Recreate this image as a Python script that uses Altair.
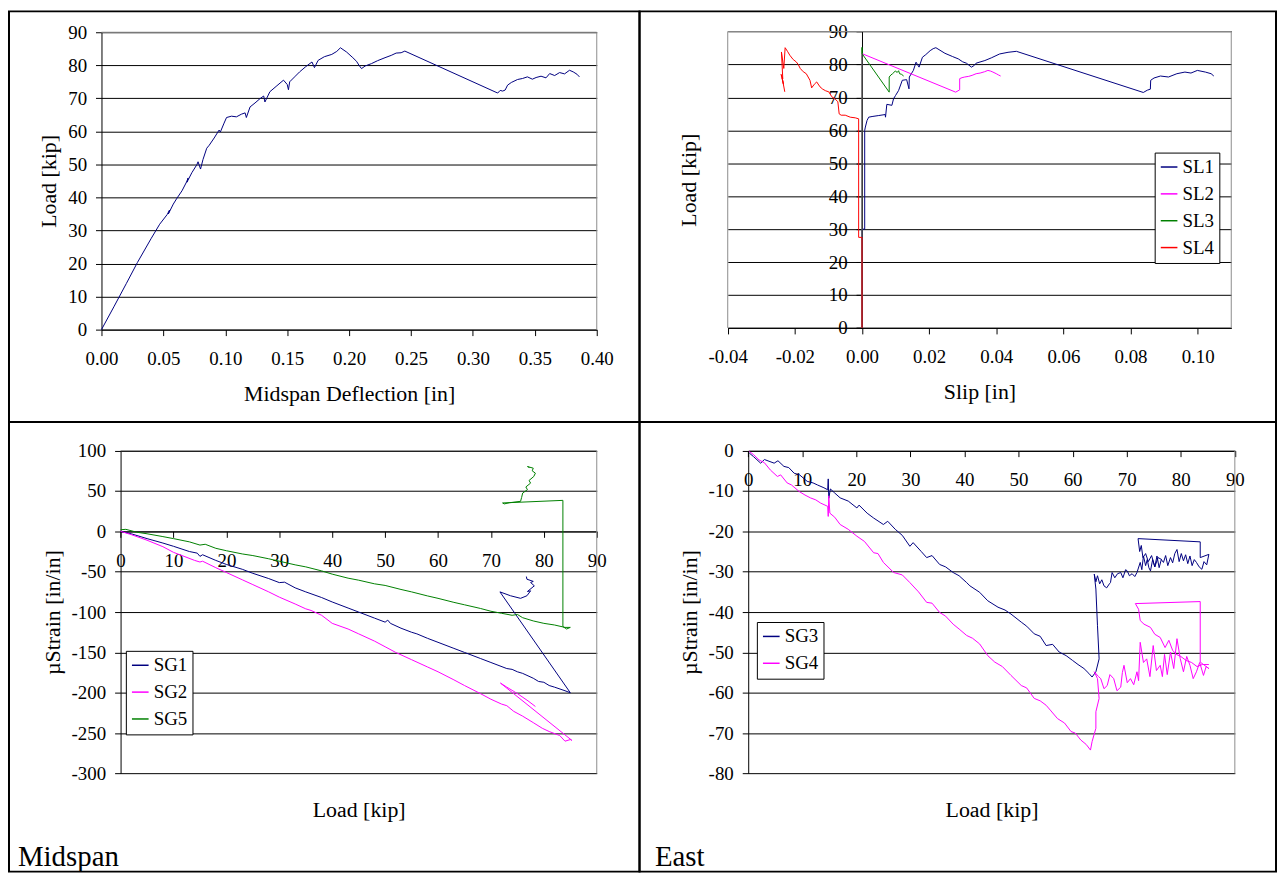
import altair as alt
import pandas as pd

FONT = "Liberation Serif"
NAVY = "#000080"
MAGENTA = "#FF00FF"
GREEN = "#008000"
RED = "#FF0000"
BORDER_GRAY = "#8c8c8c"
MINUS_FIX = "replace(datum.label, '\u2212', '-')"

# ---------------- Panel 1: Load vs midspan deflection ----------------
DEFL = [0.000, 0.010, 0.020, 0.029, 0.040, 0.047, 0.053, 0.055, 0.054, 0.058,
        0.061, 0.065, 0.069, 0.070, 0.069, 0.073, 0.077, 0.078, 0.080, 0.082,
        0.085, 0.087, 0.091, 0.095, 0.096, 0.099, 0.101, 0.105, 0.109, 0.113,
        0.116, 0.117, 0.120, 0.124, 0.128, 0.131, 0.132, 0.136, 0.141, 0.147,
        0.150, 0.151, 0.152, 0.156, 0.160, 0.165, 0.170, 0.172, 0.175, 0.180,
        0.186, 0.190, 0.193, 0.198, 0.203, 0.206, 0.208, 0.210, 0.213, 0.218,
        0.223, 0.229, 0.234, 0.238, 0.242, 0.245, 0.320, 0.322, 0.324, 0.326,
        0.328, 0.331, 0.336, 0.340, 0.344, 0.348, 0.351, 0.355, 0.359, 0.362,
        0.366, 0.370, 0.374, 0.378, 0.381, 0.384, 0.386]
LOAD1 = [0.0, 6.9, 13.9, 20.3, 27.5, 31.9, 34.8, 36.2, 35.0, 38.0,
         39.8, 42.0, 44.9, 45.9, 44.6, 47.5, 49.9, 50.8, 48.6, 51.5,
         54.9, 55.8, 58.0, 60.4, 59.8, 62.5, 64.2, 64.6, 64.4, 65.2,
         65.6, 64.2, 67.4, 68.6, 69.9, 70.7, 68.9, 72.0, 73.6, 75.5,
         74.2, 72.6, 75.0, 76.5, 78.0, 79.6, 81.0, 79.3, 81.5, 82.6,
         83.3, 84.2, 85.3, 84.0, 82.3, 81.2, 80.0, 79.0, 79.8, 80.5,
         81.4, 82.3, 83.0, 83.7, 83.8, 84.3, 71.6, 72.4, 72.2, 72.5,
         74.0, 74.8, 75.7, 76.0, 76.5, 75.8, 76.3, 76.7, 76.2, 77.5,
         76.9, 77.8, 77.4, 78.5, 78.0, 77.3, 76.5]

# ---------------- Panel 2: Load vs slip ----------------
SL_NAMES = ["SL1", "SL2", "SL3", "SL4"]
SL_COLORS = [NAVY, MAGENTA, GREEN, RED]
SL1_X = [0.0000, 0.0000, 0.0008, 0.0008, 0.0010, 0.0015, 0.0020, 0.0030, 0.0050, 0.0069,
         0.0070, 0.0074, 0.0089, 0.0094, 0.0100, 0.0109, 0.0120, 0.0133, 0.0140, 0.0141,
         0.0153, 0.0161, 0.0170, 0.0180, 0.0190, 0.0203, 0.0212, 0.0220, 0.0247, 0.0270,
         0.0287, 0.0300, 0.0311, 0.0326, 0.0333, 0.0340, 0.0366, 0.0385, 0.0410, 0.0435,
         0.0460, 0.0838, 0.0850, 0.0859, 0.0860, 0.0870, 0.0889, 0.0913, 0.0938, 0.0962,
         0.0980, 0.0999, 0.1023, 0.1040, 0.1048]
SL1_Y = [0.0, 30.0, 30.0, 60.0, 61.0, 63.0, 64.0, 64.2, 64.5, 64.8,
         64.0, 67.9, 67.6, 69.6, 70.6, 72.1, 75.2, 75.4, 72.6, 76.2,
         78.2, 80.7, 79.2, 82.2, 83.0, 84.2, 84.8, 85.1, 83.4, 82.4,
         81.7, 80.8, 80.4, 79.2, 79.6, 80.4, 81.2, 82.0, 83.2, 83.7,
         84.0, 71.5, 72.2, 72.5, 75.2, 75.9, 76.5, 76.2, 77.2, 77.7,
         77.4, 78.2, 77.7, 77.2, 76.5]
SL2_X = [0.0000, 0.0000, 0.0279, 0.0291, 0.0291, 0.0298, 0.0306, 0.0318, 0.0328, 0.0340,
         0.0352, 0.0365, 0.0375, 0.0383, 0.0390, 0.0400, 0.0407, 0.0413]
SL2_Y = [0.0, 83.3, 71.6, 72.3, 75.7, 76.0, 76.2, 76.4, 76.7, 77.2,
         77.4, 77.8, 78.2, 78.0, 77.7, 77.2, 76.8, 76.5]
SL3_X = [0.0000, 0.0000, 0.0000, 0.0081, 0.0081, 0.0086, 0.0091, 0.0099, 0.0105, 0.0109,
         0.0112, 0.0118, 0.0124]
SL3_Y = [0.0, 85.2, 83.3, 71.6, 76.2, 76.8, 77.2, 78.0, 77.6, 78.1,
         77.2, 77.0, 76.5]
SL4_X = [0.0000, 0.0000, 0.0000, -0.0010, -0.0010, -0.0020, -0.0035, -0.0050, -0.0062, -0.0068,
         -0.0072, -0.0080, -0.0090, -0.0099, -0.0108, -0.0117, -0.0125, -0.0135, -0.0142, -0.0150,
         -0.0155, -0.0166, -0.0175, -0.0184, -0.0190, -0.0196, -0.0205, -0.0215, -0.0222, -0.0229,
         -0.0233, -0.0240, -0.0236, -0.0241, -0.0234, -0.0238, -0.0230]
SL4_Y = [0.0, 15.0, 27.5, 27.5, 63.5, 63.8, 64.0, 64.6, 64.6, 65.0,
         68.7, 69.5, 70.2, 71.7, 72.0, 72.5, 73.2, 74.7, 74.0, 72.9,
         75.2, 77.2, 77.8, 78.8, 80.0, 80.8, 81.5, 82.8, 84.0, 85.1,
         78.8, 83.8, 75.7, 77.0, 74.0, 76.0, 71.7]

# ---------------- Panel 3: Midspan strain vs load ----------------
SGM_NAMES = ["SG1", "SG2", "SG5"]
SGM_COLORS = [NAVY, MAGENTA, GREEN]
SG1_X = [0, 2, 5, 8, 10, 13, 14.5, 15, 15.5, 18,
         20, 23, 25, 28, 30, 31, 33, 35, 38, 40,
         43, 45, 48, 50, 50.5, 51, 53, 55, 56, 58,
         60, 63, 65, 68, 70, 73, 74, 75, 76, 78,
         79, 80, 81, 82, 84, 85, 71.7, 73.7, 75.6, 76.8,
         77.5, 76.9, 78.2, 77.5, 78.0, 76.8, 76.7]
SG1_Y = [0, -3, -9, -14.5, -18.5, -25, -27, -31, -29, -36,
         -41, -47, -52, -58.5, -63.5, -63, -70, -75, -82, -87.5,
         -95, -100, -107.5, -112.5, -110, -114, -120, -125, -127, -132.5,
         -137.5, -145, -150, -157.5, -162.5, -170, -171, -174, -176, -182,
         -186, -187, -191, -193, -197.5, -200, -75, -79.8, -83, -79.8,
         -73.7, -74.5, -67.5, -63.4, -62, -59.3, -56]
SG2_X = [0, 2, 5, 8, 10, 12, 14, 15, 15.5, 18,
         20, 23, 25, 28, 30, 33, 35, 36, 38, 40,
         43, 45, 48, 50, 52, 55, 58, 60, 63, 65,
         68, 70, 72, 73, 74.3, 76, 78, 79.7, 81, 83,
         84, 85, 85.3, 71.8, 73, 75, 77, 78.4]
SG2_Y = [0, -4, -11, -19, -26, -31, -36, -38, -37, -45,
         -51, -60, -66, -75, -81.5, -90, -96, -98, -104, -114,
         -121, -127, -136, -143, -150, -159, -168, -174, -184, -191,
         -201, -208, -214, -216, -223, -229, -237, -244, -248, -253,
         -260, -258, -259, -188, -193, -201, -210, -217]
SG5_X = [0, 1, 3, 5, 8, 10, 13, 15, 16, 18,
         20, 23, 25, 28, 30, 33, 35, 38, 40, 43,
         45, 48, 50, 53, 55, 58, 60, 63, 65, 68,
         70, 72, 74, 75, 76, 78, 80, 82, 84, 85,
         84.3, 83.6, 83.6, 72.2, 72.5, 73.5, 75.6, 75.8, 76.0, 76.9,
         76.6, 77.5, 77.2, 78.1, 78.4, 77.8, 78.0, 76.9, 77.3]
SG5_Y = [2, 2.5, -1, -3, -6.5, -9, -13, -17, -16, -21,
         -24, -28, -30, -34, -37, -41.5, -44, -49, -53, -58,
         -60.5, -65, -67, -72, -75, -80, -83, -88, -91, -95.5,
         -99, -101.5, -104, -103, -107, -111, -114, -116, -119, -119,
         -121, -118, 38.4, 35.2, 34, 35.5, 37.2, 42, 47.5, 51.6,
         55, 59.8, 63, 68, 72.1, 75, 78.3, 80.3, 79]

# ---------------- Panel 4: East strain vs load ----------------
SGE_NAMES = ["SG3", "SG4"]
SGE_COLORS = [NAVY, MAGENTA]
SG3_X = [0.2, 1, 2.3, 3, 4.8, 5.5, 6.6, 7.5, 8.5, 9.5,
         10.9, 12, 12.8, 14, 14.7, 14.8, 14.9, 15.2, 16, 17,
         18.5, 20.1, 20.5, 22, 23.2, 25, 25.8, 27.2, 28.5, 29.9,
         30.5, 32, 33, 34, 35.4, 36.5, 37.9, 39, 40.4, 41,
         42.8, 44.3, 46.2, 47.5, 48.6, 50.5, 51.5, 52.9, 54, 55.1,
         56.3, 57.5, 58.8, 60.0, 61, 62.1, 63, 63.6, 64.3, 64.9,
         64.6, 64.3, 64.0,
         64.3, 64.6, 65.0, 65.4, 65.8, 66.3, 66.8, 67.0, 67.3, 67.8,
         68.3, 68.9, 69.3, 69.8, 70.1, 70.5, 71.0, 71.5, 71.9, 72.5,
         72.8, 73.1, 73.5, 73.8, 74.1, 74.4, 74.8, 75.2, 75.6, 76.0,
         76.4, 76.8, 77.2, 77.6, 78.1, 78.5, 78.9, 79.3, 79.7, 80.1,
         80.5, 80.9, 81.3, 81.7, 82.1, 82.5, 82.9, 83.4, 83.9, 84.3,
         84.8, 85.2, 83.6, 83.6, 72.1, 72.4, 72.7, 73.0, 73.5, 74.0,
         74.6, 75.2, 75.8, 76.5]
SG3_Y = [-0.6, -1.5, -3.1, -2.2, -3.1, -2.5, -3.9, -4.2, -5.6, -6.0,
         -7.6, -8.0, -8.5, -9.2, -9.7, -7.0, -11.8, -9.5, -10.5, -11.7,
         -12.5, -14.2, -13.5, -15.5, -16.7, -18.3, -17.5, -19.5, -21.0, -23.7,
         -22.8, -25.0, -26.5, -26.0, -28.2, -28.8, -30.2, -31.0, -32.7, -33.5,
         -35.1, -37.2, -38.8, -39.5, -40.5, -42.5, -43.5, -45.4, -46.0, -48.3,
         -48.0, -49.9, -50.8, -52.0, -53.0, -54.0, -55.2, -56.1, -54.8, -51.6,
         -43.4, -34.3, -30.6,
         -32.5, -31.0, -33.0, -32.0, -33.5, -34.0, -33.0, -32.7, -30.2, -31.5,
         -30.5, -30.2, -31.5, -29.5, -29.8, -31.0, -30.5, -31.2, -30.2, -27.7,
         -29.5, -26.1, -28.5, -27.0, -29.0, -29.8, -27.0, -28.8, -26.1, -29.0,
         -27.0, -27.7, -26.0, -28.5, -26.5, -27.8, -25.5, -24.5, -27.5, -25.5,
         -27.3, -25.8, -28.0, -26.1, -28.5, -27.0, -27.7, -28.8, -29.4, -27.5,
         -28.3, -25.7, -26.5, -22.6, -21.8, -25.0, -23.5, -26.5, -25.5, -27.5,
         -26.0, -28.8, -26.5, -27.0]
SG4_X = [0.2, 1.0, 2.0, 3.0, 4.1, 5.4, 6.0, 7.2, 8.0, 9.4,
         10.5, 11.5, 12.5, 13.4, 14.7, 14.8, 14.9, 15.1, 16.0, 17.0,
         18.5, 20.1, 21.5, 23.2, 24.0, 25.0, 26.9, 28.5, 29.9, 31.5,
         33.0, 34.0, 35.4, 36.5, 37.9, 39.0, 40.4, 41.5, 42.8, 44.3,
         45.6, 47.0, 48.6, 50.5, 51.5, 52.9, 54.0, 55.1, 56.0, 57.2,
         58.5, 59.7, 60.5, 61.5, 62.5, 63.3, 63.6, 64.3, 64.3, 64.9,
         64.6, 64.0,
         64.8, 65.2, 65.8, 66.4, 66.9, 67.6, 68.2, 68.9, 69.2, 69.5,
         70.1, 70.7, 71.3, 71.9, 72.2, 72.5, 73.1, 73.7, 74.3, 74.9,
         75.5, 76.2, 76.6, 77.0, 77.5, 78.1, 78.7, 79.3, 79.9, 80.5,
         81.1, 81.7, 82.3, 82.9, 83.5, 84.2, 84.7, 85.2, 83.6, 83.6,
         71.6, 72.2, 72.5, 73.2, 74.4, 75.2, 76.2, 77.1, 77.8, 78.5,
         79.2, 80.0, 81.0, 82.0, 83.0, 84.0, 85.2]
SG4_Y = [-0.2, -1.0, -2.3, -3.0, -4.8, -6.4, -6.0, -8.0, -8.5, -10.1,
         -11.0, -11.7, -12.2, -13.0, -13.8, -16.3, -11.2, -15.5, -16.5, -18.3,
         -19.5, -21.2, -22.5, -25.3, -25.5, -27.7, -30.2, -30.8, -32.7, -35.0,
         -37.6, -37.8, -40.1, -41.0, -43.0, -44.2, -45.8, -46.5, -47.9, -50.8,
         -52.4, -53.5, -55.7, -58.2, -58.8, -61.4, -62.0, -63.1, -64.5, -66.4,
         -67.5, -69.6, -70.0, -71.7, -72.8, -74.2, -72.1, -68.8, -64.7, -61.4,
         -56.5, -54.8,
         -56.0, -56.5, -59.0, -58.2, -55.5, -56.5, -59.5, -58.6, -55.0, -53.2,
         -57.5, -56.5, -58.0, -54.8, -57.0, -47.5, -52.5, -51.6, -56.0, -48.3,
         -54.5, -53.2, -56.0, -50.5, -55.5, -49.9, -54.0, -46.6, -51.5, -54.8,
         -51.0, -53.2, -56.5, -54.8, -52.5, -55.7, -53.5, -54.0, -52.4, -37.4,
         -37.9, -39.3, -42.1, -43.0, -43.8, -45.5, -46.3, -48.8, -47.0, -49.5,
         -50.5, -51.0, -52.0, -52.5, -53.5, -53.0, -53.0]

# tick values
P1_XTICKS = [0, 0.05, 0.1, 0.15, 0.2, 0.25, 0.3, 0.35, 0.4]
LOAD_TICKS = [0, 10, 20, 30, 40, 50, 60, 70, 80, 90]
P2_XTICKS = [-0.04, -0.02, 0, 0.02, 0.04, 0.06, 0.08, 0.1]
P3_YTICKS = [-300, -250, -200, -150, -100, -50, 0, 50, 100]
P4_YTICKS = [-80, -70, -60, -50, -40, -30, -20, -10, 0]

# ---------------- layout (pixels inside each table cell) ----------------
P1_XR, P1_YR = [93, 591], [320, 21]
P2_XR, P2_YR = [88.7, 595], [318.3, 20.3]
P3_XR, P3_YR = [112.2, 591], [353.3, 28.7]
P4_XR, P4_YR = [109.3, 598.6], [353.3, 28.7]


def series_frame(names, xs_list, ys_list, xname, yname):
    rows = []
    for name, xs, ys in zip(names, xs_list, ys_list):
        for i, (a, b) in enumerate(zip(xs, ys)):
            rows.append({"series": name, xname: a, yname: b, "i": i})
    return pd.DataFrame(rows)


AXIS_COMMON = dict(labelFont=FONT, labelFontSize=19, labelColor="black",
                   titleFont=FONT, titleFontSize=22, titleFontWeight="normal",
                   titleColor="black", domainColor="black", domainWidth=1,
                   tickColor="black", tickWidth=1, tickSize=6,
                   labelFlush=False, labelOverlap=False, labelExpr=MINUS_FIX)


def xaxis(values, fmt, offset, title, title_y):
    return alt.Axis(values=values, format=fmt, offset=offset, title=title,
                    titleY=title_y, titleBaseline="alphabetic", titleAlign="center",
                    labelBaseline="middle", labelPadding=23, grid=False, **AXIS_COMMON)


def yaxis(values, fmt, offset, title, title_x):
    return alt.Axis(values=values, format=fmt, offset=offset, title=title,
                    titleX=title_x, titleAngle=270, titleBaseline="middle",
                    titleAlign="center", labelPadding=9, grid=True,
                    gridColor="black", gridWidth=1, **AXIS_COMMON)


def legend(x, y):
    return alt.Legend(orient="none", legendX=x, legendY=y, title=None,
                      labelFont=FONT, labelFontSize=19, labelColor="black",
                      symbolType="stroke", symbolStrokeWidth=1.5, symbolSize=280,
                      strokeColor="black", fillColor="white", padding=5,
                      rowPadding=7, labelOffset=4)


ONE = pd.DataFrame({"k": [0]})


def hframe(xa, xb, yv):
    return alt.Chart(ONE).mark_rule(color=BORDER_GRAY, strokeWidth=1).encode(
        x=alt.value(xa), x2=alt.value(xb), y=alt.value(yv))


def vframe(xv, ya, yb):
    return alt.Chart(ONE).mark_rule(color=BORDER_GRAY, strokeWidth=1).encode(
        x=alt.value(xv), y=alt.value(ya), y2=alt.value(yb))


def label_text(txt, x, y):
    return alt.Chart(pd.DataFrame({"label": [txt]})).mark_text(
        align="left", baseline="alphabetic", font=FONT, fontSize=29, color="black"
    ).encode(text="label:N", x=alt.value(x), y=alt.value(y))


# ---------- Panel 1 ----------
df1 = pd.DataFrame({"defl": DEFL, "load": LOAD1, "i": list(range(len(DEFL)))})
p1_line = alt.Chart(df1).mark_line(strokeWidth=1, color=NAVY).encode(
    x=alt.X("defl:Q", scale=alt.Scale(domain=[0, 0.4], range=P1_XR, nice=False, zero=False),
            axis=xaxis(P1_XTICKS, ".2f", P1_YR[0] - 413, "Midspan Deflection [in]", 71)),
    y=alt.Y("load:Q", scale=alt.Scale(domain=[0, 90], range=P1_YR, nice=False, zero=False),
            axis=yaxis(LOAD_TICKS, "d", -P1_XR[0], "Load [kip]", -53)),
    order="i:Q")
p1 = alt.layer(p1_line, hframe(P1_XR[0], P1_XR[1], P1_YR[1]),
               vframe(P1_XR[1], P1_YR[1], P1_YR[0])).properties(width=634, height=413)

# ---------- Panel 2 ----------
df2 = series_frame(SL_NAMES, [SL1_X, SL2_X, SL3_X, SL4_X], [SL1_Y, SL2_Y, SL3_Y, SL4_Y], "slip", "load")
p2_y0 = P2_XR[0] + (P2_XR[1] - P2_XR[0]) * 0.04 / 0.15
p2_line = alt.Chart(df2).mark_line(strokeWidth=1).encode(
    x=alt.X("slip:Q", scale=alt.Scale(domain=[-0.04, 0.11], range=P2_XR, nice=False, zero=False),
            axis=xaxis(P2_XTICKS, ".2f", P2_YR[0] - 413, "Slip [in]", 71)),
    y=alt.Y("load:Q", scale=alt.Scale(domain=[0, 90], range=P2_YR, nice=False, zero=False),
            axis=yaxis(LOAD_TICKS, "d", -p2_y0, "Load [kip]", -174)),
    color=alt.Color("series:N", scale=alt.Scale(domain=SL_NAMES, range=SL_COLORS),
                    legend=legend(518, 142)),
    order="i:Q")
p2 = alt.layer(hframe(P2_XR[0], P2_XR[1], P2_YR[1]),
               vframe(P2_XR[1], P2_YR[1], P2_YR[0]),
               vframe(P2_XR[0], P2_YR[1], P2_YR[0]), p2_line).properties(width=640, height=413)

# ---------- Panel 3 ----------
df3 = series_frame(SGM_NAMES, [SG1_X, SG2_X, SG5_X], [SG1_Y, SG2_Y, SG5_Y], "load", "strain")
p3_x0 = P3_YR[0] + (P3_YR[1] - P3_YR[0]) * 300 / 400
p3_line = alt.Chart(df3).mark_line(strokeWidth=1).encode(
    x=alt.X("load:Q", scale=alt.Scale(domain=[0, 90], range=P3_XR, nice=False, zero=False),
            axis=xaxis(LOAD_TICKS, "d", p3_x0 - 452, "Load [kip]", 818.3 - 422 - p3_x0)),
    y=alt.Y("strain:Q", scale=alt.Scale(domain=[-300, 100], range=P3_YR, nice=False, zero=False),
            axis=yaxis(P3_YTICKS, "d", -P3_XR[0], "\u00b5Strain [in/in]", -68)),
    color=alt.Color("series:N", scale=alt.Scale(domain=SGM_NAMES, range=SGM_COLORS),
                    legend=legend(117.5, 230)),
    order="i:Q")
p3 = alt.layer(hframe(P3_XR[0], P3_XR[1], P3_YR[1]),
               vframe(P3_XR[1], P3_YR[1], P3_YR[0]), p3_line,
               label_text("Midspan", 9, 446)).properties(width=634, height=452)

# ---------- Panel 4 ----------
df4 = series_frame(SGE_NAMES, [SG3_X, SG4_X], [SG3_Y, SG4_Y], "load", "strain")
p4_line = alt.Chart(df4).mark_line(strokeWidth=1).encode(
    x=alt.X("load:Q", scale=alt.Scale(domain=[0, 90], range=P4_XR, nice=False, zero=False),
            axis=xaxis(LOAD_TICKS, "d", P4_YR[1] - 452, "Load [kip]", 818.3 - 422 - P4_YR[1])),
    y=alt.Y("strain:Q", scale=alt.Scale(domain=[-80, 0], range=P4_YR, nice=False, zero=False),
            axis=yaxis(P4_YTICKS, "d", -P4_XR[0], "\u00b5Strain [in/in]", -59)),
    color=alt.Color("series:N", scale=alt.Scale(domain=SGE_NAMES, range=SGE_COLORS),
                    legend=legend(118, 201)),
    order="i:Q")
p4 = alt.layer(vframe(P4_XR[1], P4_YR[1], P4_YR[0]), p4_line,
               label_text("East", 15.5, 446)).properties(width=640, height=452)

chart = alt.concat(p1, p2, p3, p4, columns=2, spacing=0, bounds="flush", padding=0).resolve_scale(
    x="independent", y="independent", color="independent"
).resolve_legend(color="independent").resolve_axis(
    x="independent", y="independent"
).configure(font=FONT).configure_view(stroke="black", strokeWidth=2)

chart.save("out.html", embed_options={"renderer": "svg", "actions": False})
